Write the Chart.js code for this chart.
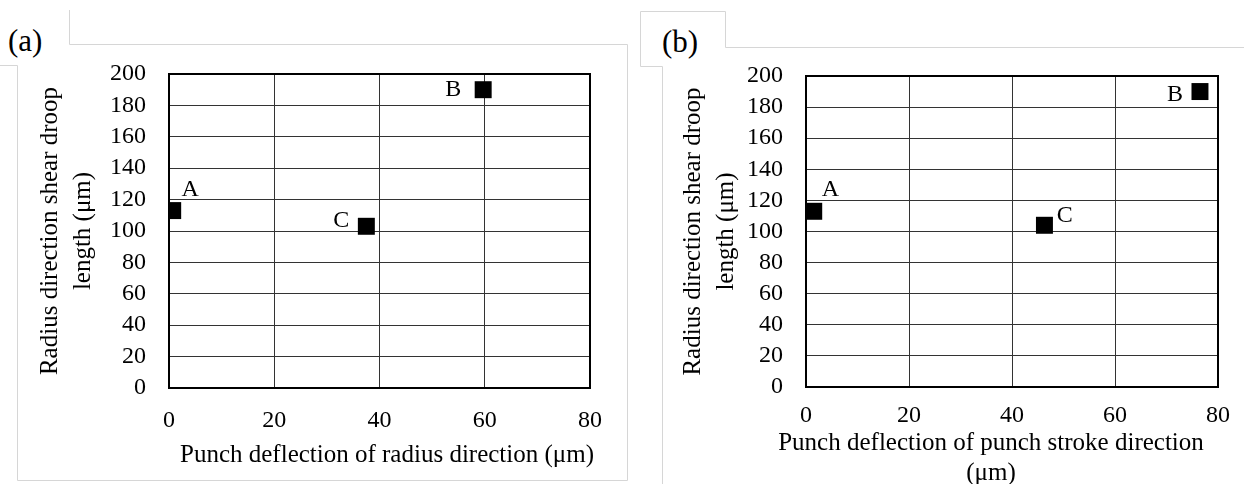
<!DOCTYPE html>
<html>
<head>
<meta charset="utf-8">
<script src="https://cdn.jsdelivr.net/npm/chart.js@4/dist/chart.umd.min.js"></script>
<style>
    body { margin: 0; background: #fff; width: 1244px; height: 484px; overflow: hidden; position: relative; font-family: 'Liberation Serif', 'Times New Roman', serif; }
    canvas { position: absolute; top: 0; }
    #chartA { left: 0; }
    #chartB { left: 620px; }
    .tag { position: absolute; font-size: 31px; line-height: 1; }
    svg { position: absolute; left: 0; top: 0; }
</style>
</head>
<body>
<svg width="1244" height="484">
    <g fill="none" stroke="#d6d6d6" stroke-width="1">
        <polyline points="0,65.5 17.5,65.5 17.5,480.5 627.5,480.5 627.5,44.5 69.5,44.5 69.5,10" />
        <polyline points="640.5,66.5 640.5,11.5 725.5,11.5 725.5,47.5 1244,47.5" />
        <polyline points="640.5,66.5 662.5,66.5 662.5,484" />
    </g>
</svg>
<div class="tag" style="left:8px; top:25px;">(a)</div>
<div class="tag" style="left:662px; top:26px;">(b)</div>
<canvas id="chartA" width="620" height="484"></canvas>
<canvas id="chartB" width="624" height="484"></canvas>
<script>
const pointNames = ['A', 'B', 'C'];

// (a) punch deflection of radius direction vs droop length
const radiusDeflection = [0.7, 59.7, 37.5];
const droopLengthA = [113, 190, 103];

// (b) punch deflection of punch stroke direction vs droop length
const strokeDeflection = [1.5, 76.5, 46.3];
const droopLengthB = [113, 190, 104];

const xTickValues = [0, 20, 40, 60, 80];
const yTickValues = [0, 20, 40, 60, 80, 100, 120, 140, 160, 180, 200];

const yTitleLines = ['Radius direction shear droop', 'length (\u03bcm)'];
const xTitleA = ['Punch deflection of radius direction (\u03bcm)'];
const xTitleB = ['Punch deflection of punch stroke direction', '(\u03bcm)'];

const FAMILY = "'Liberation Serif', 'Times New Roman', serif";
const TICK_SIZE = 24;
const TITLE_SIZE = 25;

// letters next to the squares
const pointLabels = {
    id: 'pointLabels',
    afterDatasetsDraw(chart, args, opts) {
        const ctx = chart.ctx;
        const meta = chart.getDatasetMeta(0);
        ctx.save();
        ctx.font = TICK_SIZE + 'px ' + FAMILY;
        ctx.fillStyle = '#000';
        ctx.textAlign = 'center';
        ctx.textBaseline = 'middle';
        meta.data.forEach((pt, i) => {
            const off = opts.offsets[i];
            ctx.fillText(pointNames[i], pt.x + off[0], pt.y + off[1]);
        });
        ctx.restore();
    }
};

// thick box round the plot area
const plotFrame = {
    id: 'plotFrame',
    beforeDatasetsDraw(chart) {
        const { ctx, chartArea } = chart;
        ctx.save();
        ctx.strokeStyle = '#000';
        ctx.lineWidth = 2;
        ctx.strokeRect(chartArea.left, chartArea.top, chartArea.right - chartArea.left, chartArea.bottom - chartArea.top);
        ctx.restore();
    }
};

// x axis caption, which sits a little off centre in the original
const xCaption = {
    id: 'xCaption',
    afterDraw(chart, args, opts) {
        const { ctx, chartArea } = chart;
        const cx = (chartArea.left + chartArea.right) / 2 + opts.dx;
        ctx.save();
        ctx.font = TITLE_SIZE + 'px ' + FAMILY;
        ctx.fillStyle = '#000';
        ctx.textAlign = 'center';
        ctx.textBaseline = 'middle';
        opts.lines.forEach((line, i) => {
            ctx.fillText(line, cx, opts.y + i * opts.lineHeight);
        });
        ctx.restore();
    }
};

function makeChart(id, xs, ys, cfg) {
    const points = xs.map((x, i) => ({ x: x, y: ys[i] }));
    const ctx = document.getElementById(id).getContext('2d');
    return new Chart(ctx, { //eslint-disable-line
        type: 'scatter',
        data: {
            datasets: [{
                data: points,
                pointStyle: 'rect',
                pointRadius: 12,
                backgroundColor: '#000',
                borderWidth: 0
            }]
        },
        plugins: [plotFrame, pointLabels, xCaption],
        options: {
            responsive: false,
            animation: false,
            layout: { padding: { left: 0, top: cfg.top, right: cfg.right, bottom: 0 } },
            plugins: {
                legend: { display: false },
                tooltip: { enabled: false },
                pointLabels: { offsets: cfg.offsets },
                xCaption: { lines: cfg.xTitle, dx: cfg.captionDx, y: cfg.captionY, lineHeight: 30 }
            },
            scales: {
                x: {
                    type: 'linear',
                    min: 0,
                    max: 80,
                    afterBuildTicks: (scale) => { scale.ticks = xTickValues.map(v => ({ value: v })); },
                    afterFit: (scale) => { scale.height = cfg.xHeight; },
                    grid: { color: '#333', lineWidth: 1, drawTicks: false },
                    border: { display: false },
                    ticks: { autoSkip: false, maxRotation: 0, padding: cfg.xPad, color: '#000', font: { family: FAMILY, size: TICK_SIZE } }
                },
                y: {
                    type: 'linear',
                    min: 0,
                    max: 200,
                    afterBuildTicks: (scale) => { scale.ticks = yTickValues.map(v => ({ value: v })); },
                    afterFit: (scale) => { scale.width = cfg.yWidth; },
                    grid: { color: '#333', lineWidth: 1, drawTicks: false },
                    border: { display: false },
                    ticks: { autoSkip: false, padding: 23, color: '#000', font: { family: FAMILY, size: TICK_SIZE } },
                    title: {
                        display: true,
                        text: yTitleLines,
                        color: '#000',
                        font: { family: FAMILY, size: TITLE_SIZE, lineHeight: 1.3 },
                        padding: { top: cfg.yTitlePad, bottom: 0 }
                    }
                }
            }
        }
    });
}

makeChart('chartA', radiusDeflection, droopLengthA, {
    top: 74, right: 29, yWidth: 169, xHeight: 96, xPad: 18, yTitlePad: 34.3,
    xTitle: xTitleA, captionDx: 7.5, captionY: 455,
    offsets: [[17.5, -21], [-30, 0.5], [-25, -6]]
});

makeChart('chartB', strokeDeflection, droopLengthB, {
    top: 76, right: 22, yWidth: 186, xHeight: 97, xPad: 14, yTitlePad: 57.3,
    xTitle: xTitleB, captionDx: -21, captionY: 443,
    offsets: [[16.7, -21.7], [-25, 3.4], [20.4, -10]]
});
</script>
</body>
</html>
